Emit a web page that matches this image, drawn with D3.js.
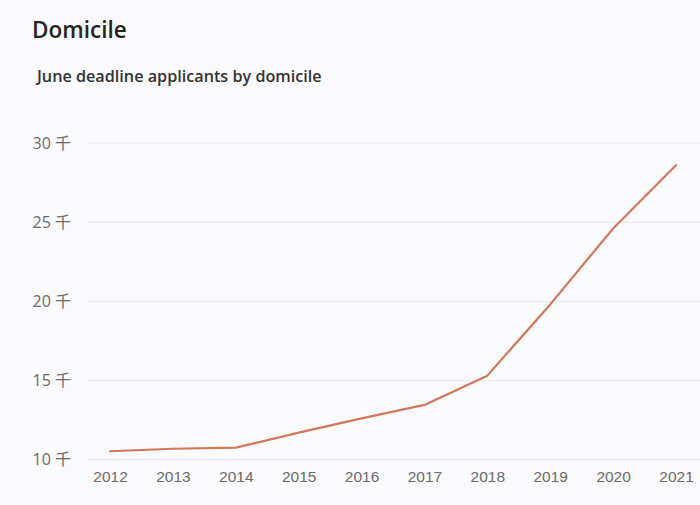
<!DOCTYPE html>
<html><head><meta charset="utf-8">
<script src="https://cdn.jsdelivr.net/npm/d3@7"></script>
<style>
html,body{margin:0;padding:0;background:#fbfafc;}
svg{display:block;font-family:"Open Sans","Noto Sans",sans-serif;}
</style></head>
<body>
<svg id="c" width="700" height="505"></svg>
<script>
const years = ["2012","2013","2014","2015","2016","2017","2018","2019","2020","2021"];
const applicants = [10.52, 10.68, 10.75, 11.7, 12.6, 13.45, 15.3, 19.8, 24.6, 28.6];
const yTicks = [10, 15, 20, 25, 30];
const yTickLabel = v => v + " 千";

const svg = d3.select("#c");
svg.append("rect").attr("width",700).attr("height",505).attr("fill","#fbfafc");

svg.append("text").attr("x",32).attr("y",38)
  .attr("font-size",22.5).attr("font-weight",600).attr("fill","#252423").text("Domicile");
svg.append("text").attr("x",37).attr("y",82)
  .attr("font-size",16.2).attr("font-weight",600).attr("fill","#333").text("June deadline applicants by domicile");

const x = d3.scalePoint().domain(years).range([110,676]);
const y = d3.scaleLinear().domain([10,30]).range([459.5,143]);

const grid = svg.append("g");
grid.selectAll("line").data(yTicks).join("line")
  .attr("x1",88).attr("x2",700)
  .attr("y1",d=>y(d)).attr("y2",d=>y(d))
  .attr("stroke","#e9e8ec").attr("stroke-width",1);

const yAxis = svg.append("g").attr("transform","translate(71,0)")
  .call(d3.axisLeft(y).tickValues(yTicks).tickFormat(yTickLabel).tickSize(0).tickPadding(0));
yAxis.select(".domain").remove();
yAxis.selectAll("text").attr("font-size",16).attr("fill","#6b6b6b").attr("font-family","'Open Sans','Noto Sans CJK SC',sans-serif");

const xAxis = svg.append("g").attr("transform","translate(0,471)")
  .call(d3.axisBottom(x).tickSize(0).tickPadding(0));
xAxis.select(".domain").remove();
xAxis.selectAll("text").attr("font-size",15.5).attr("fill","#6b6b6b").attr("dy","0.71em");

const line = d3.line().x((d,i)=>x(years[i])).y(d=>y(d));
svg.append("path").datum(applicants)
  .attr("d",line).attr("fill","none")
  .attr("stroke","#d2775a").attr("stroke-width",2.2)
  .attr("stroke-linejoin","round").attr("stroke-linecap","round");
</script>
</body></html>
